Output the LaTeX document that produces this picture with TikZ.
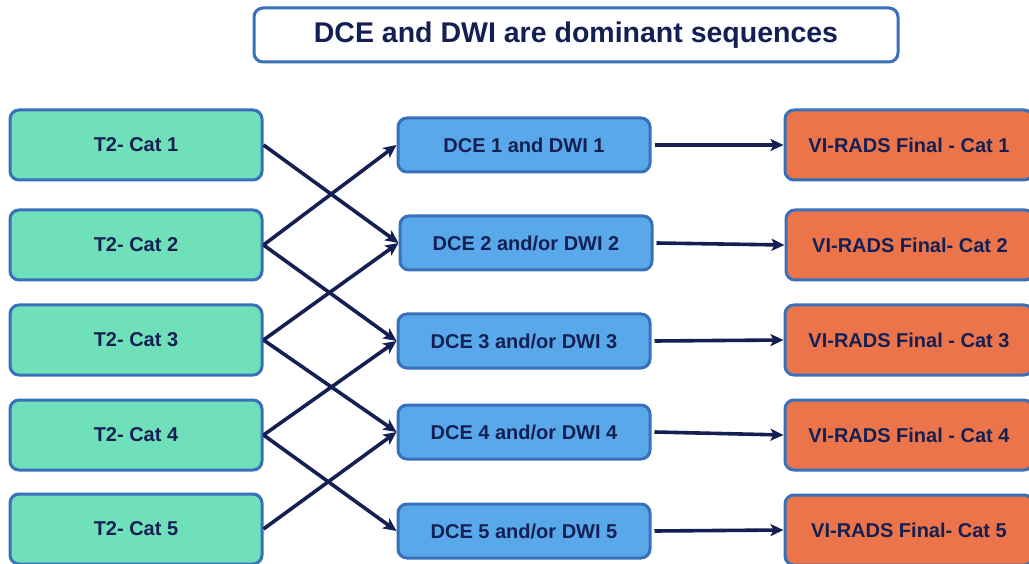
\documentclass[tikz,border=0pt]{standalone}
\usepackage{fontspec}
\setmainfont{Liberation Sans}
\usetikzlibrary{arrows.meta}
\definecolor{bordc}{RGB}{56,112,186}
\definecolor{greenf}{RGB}{112,224,186}
\definecolor{bluef}{RGB}{88,168,234}
\definecolor{orangef}{RGB}{236,116,74}
\definecolor{navy}{RGB}{20,32,84}
\tikzset{
  basebox/.style={draw=bordc, line width=3pt, rounded corners=9pt, text=navy,
    font=\fontsize{20}{24}\selectfont\bfseries, align=center, inner sep=0pt},
  tbox/.style={basebox, fill=greenf, minimum width=252pt, minimum height=70pt},
  dbox/.style={basebox, fill=bluef, minimum width=252pt, minimum height=54pt},
  vbox/.style={basebox, fill=orangef, minimum width=248pt, minimum height=70pt},
  titlebox/.style={basebox, fill=white, minimum width=644pt, minimum height=54pt,
    font=\fontsize{28.5}{32}\selectfont\bfseries},
  conn/.style={draw=navy, line width=3.6pt, -{Stealth[length=13pt,width=12pt,inset=3pt]}}
}
\begin{document}
\begin{tikzpicture}[x=1pt,y=-1pt]
\clip (0,0) rectangle (1029,564);
\fill[white] (0,0) rectangle (1029,564);
\node[titlebox] (title) at (576,35) {\raisebox{-2pt}{DCE and DWI are dominant sequences}};
% T2 boxes
\node[tbox] (t1) at (136,145) {T2- Cat 1};
\node[tbox] (t2) at (136,245) {T2- Cat 2};
\node[tbox] (t3) at (136,340) {T2- Cat 3};
\node[tbox] (t4) at (136,435) {T2- Cat 4};
\node[tbox] (t5) at (136,529) {T2- Cat 5};
% DCE boxes
\node[dbox] (d1) at (524,145) {DCE 1 and DWI 1};
\node[dbox] (d2) at (526,243) {DCE 2 and/or DWI 2};
\node[dbox] (d3) at (524,341) {DCE 3 and/or DWI 3};
\node[dbox] (d4) at (524,432) {DCE 4 and/or DWI 4};
\node[dbox] (d5) at (524,531) {DCE 5 and/or DWI 5};
% VI-RADS boxes
\node[vbox] (v1) at (909,145) {VI-RADS Final - Cat 1};
\node[vbox] (v2) at (910,245) {VI-RADS Final- Cat 2};
\node[vbox] (v3) at (909,340) {VI-RADS Final - Cat 3};
\node[vbox] (v4) at (909,435) {VI-RADS Final - Cat 4};
\node[vbox] (v5) at (909,530) {VI-RADS Final- Cat 5};
% crossing connectors
\draw[conn] (t1.east) -- (d2.west);
\draw[conn] (t2.east) -- (d1.west);
\draw[conn] (t2.east) -- (d3.west);
\draw[conn] (t3.east) -- (d2.west);
\draw[conn] (t3.east) -- (d4.west);
\draw[conn] (t4.east) -- (d3.west);
\draw[conn] (t4.east) -- (d5.west);
\draw[conn] (t5.east) -- (d4.west);
% straight connectors
\draw[conn] ([xshift=3pt]d1.east) -- (v1.west);
\draw[conn] ([xshift=3pt]d2.east) -- (v2.west);
\draw[conn] ([xshift=3pt]d3.east) -- (v3.west);
\draw[conn] ([xshift=3pt]d4.east) -- (v4.west);
\draw[conn] ([xshift=3pt]d5.east) -- (v5.west);
\end{tikzpicture}
\end{document}
